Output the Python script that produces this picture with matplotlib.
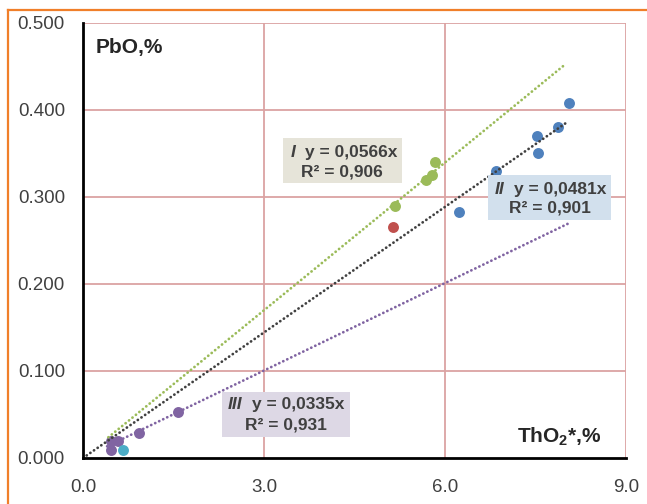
import matplotlib.pyplot as plt
import numpy as np
from matplotlib.patches import Rectangle
from matplotlib.lines import Line2D

plt.rcParams['font.family'] = ['Liberation Sans', 'DejaVu Sans']
plt.rcParams['mathtext.fontset'] = 'custom'
plt.rcParams['mathtext.bf'] = 'Liberation Sans:bold'
plt.rcParams['mathtext.rm'] = 'Liberation Sans'

# group I (green)
g1_x = [5.17, 5.69, 5.79, 5.84]
g1_y = [0.290, 0.320, 0.325, 0.340]
# group II (blue) + red point
g2_x = [6.24, 6.85, 7.53, 7.55, 7.88, 8.05]
g2_y = [0.283, 0.330, 0.370, 0.351, 0.380, 0.408]
red_x = [5.14]
red_y = [0.266]
# group III (purple) + cyan point
g3_x = [0.46, 0.46, 0.58, 0.93, 1.58]
g3_y = [0.009, 0.020, 0.020, 0.029, 0.0525]
cyan_x = [0.66]
cyan_y = [0.009]

# trendlines: slope, x range
k1, k2, k3 = 0.0566, 0.0481, 0.0335
r1, r2, r3 = (0.42, 8.0), (0.0, 8.0), (0.40, 8.06)

xticks = [0.0, 3.0, 6.0, 9.0]
yticks = [0.0, 0.1, 0.2, 0.3, 0.4, 0.5]

fig = plt.figure(figsize=(6.47, 5.04), dpi=100)
ax = fig.add_axes([0.1283, 0.0913, 0.9675 - 0.1283, 0.9544 - 0.0913])

grid_c = '#DBA3A3'
for xv in xticks[1:]:
    ax.axvline(xv, color=grid_c, lw=1.3, zorder=1)
for yv in yticks[1:]:
    ax.axhline(yv, color=grid_c, lw=1.3, zorder=1)

ms = 62
ax.scatter(g1_x, g1_y, s=ms, color='#9BBB59', zorder=3, linewidths=0)
ax.scatter(g2_x, g2_y, s=ms, color='#4F81BD', zorder=3, linewidths=0)
ax.scatter(red_x, red_y, s=ms, color='#C0504D', zorder=3, linewidths=0)
ax.scatter(g3_x, g3_y, s=ms, color='#8064A2', zorder=3, linewidths=0)
ax.scatter(cyan_x, cyan_y, s=ms, color='#4BACC6', zorder=3, linewidths=0)

for k, r, c in [(k1, r1, '#9BBB59'), (k2, r2, '#404040'), (k3, r3, '#8064A2')]:
    xs = np.array(r)
    ax.plot(xs, k * xs, color=c, lw=2.0, linestyle=(0, (0.05, 1.55)),
            dash_capstyle='round', solid_capstyle='round', zorder=4)

ax.set_xlim(0, 9)
ax.set_ylim(0, 0.5)
ax.set_xticks(xticks)
ax.set_yticks(yticks)
ax.set_xticklabels(['%.1f' % v for v in xticks])
ax.set_yticklabels(['%.3f' % v for v in yticks])
ax.tick_params(length=0, labelsize=13.5, labelcolor='#404040')
ax.tick_params(axis='y', pad=13)
ax.tick_params(axis='x', pad=15)

for s in ['top', 'right']:
    ax.spines[s].set_visible(False)
for s in ['left', 'bottom']:
    ax.spines[s].set_color('black')
    ax.spines[s].set_linewidth(2.0)
    ax.spines[s].set_zorder(5)

tc = '#404040'
boxes = [
    # x0, x1, y0, y1, colour, numeral, numeral x, eq x, line1 y, line2 y, eq, r2
    (3.31, 5.28, 0.316, 0.368, '#E6E4D9', 'I', 3.44, 3.68, 0.351, 0.329, 'y = 0,0566x', 'R² = 0,906'),
    (6.72, 8.76, 0.2736, 0.325, '#D2E0ED', 'II', 6.82, 7.14, 0.309, 0.287, 'y = 0,0481x', 'R² = 0,901'),
    (2.30, 4.42, 0.024, 0.0759, '#DDD8E5', 'III', 2.40, 2.80, 0.061, 0.038, 'y = 0,0335x', 'R² = 0,931'),
]
for x0, x1, y0, y1, bc, num, nx, ex, ly1, ly2, eq, rr in boxes:
    ax.add_patch(Rectangle((x0, y0), x1 - x0, y1 - y0, facecolor=bc,
                           edgecolor='none', zorder=6))
    ax.text(nx, ly1, num, ha='left', va='center', fontsize=12.5,
            fontweight='bold', fontstyle='italic', color=tc, zorder=7)
    ax.text(ex, ly1, eq, ha='left', va='center', fontsize=12.5,
            fontweight='bold', color=tc, zorder=7)
    ax.text((x0 + x1) / 2, ly2, rr, ha='center', va='center', fontsize=12.5,
            fontweight='bold', color=tc, zorder=7)

ax.text(0.215, 0.472, 'PbO,%', ha='left', va='center', fontsize=15,
        fontweight='bold', color='#262626', zorder=7)
ax.text(8.59, 0.024, r'$\mathbf{ThO_2}$*,%', ha='right', va='center', fontsize=15,
        fontweight='bold', color='#262626', zorder=7)

# orange frame (top and left)
fig.add_artist(Line2D([8 / 647, 1.0], [1 - 10 / 504, 1 - 10 / 504],
                      color='#F07F2A', lw=1.6, transform=fig.transFigure))
fig.add_artist(Line2D([8 / 647, 8 / 647], [0, 1 - 10 / 504],
                      color='#F07F2A', lw=1.6, transform=fig.transFigure))

fig.savefig('out.png', dpi=100)
